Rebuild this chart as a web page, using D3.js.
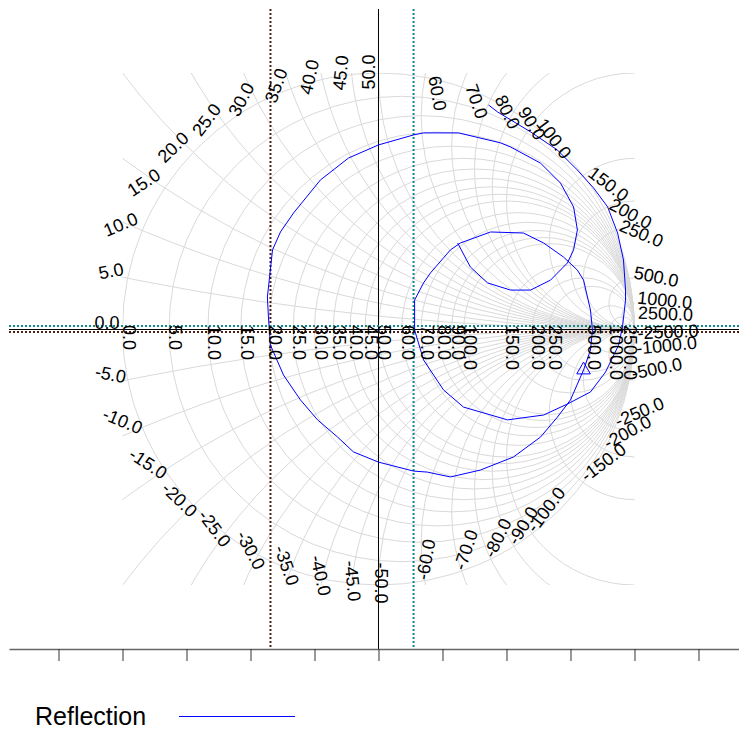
<!DOCTYPE html>
<html>
<head>
<meta charset="utf-8">
<script src="https://cdn.jsdelivr.net/npm/d3@7"></script>
<style>
body { margin: 0; background: #fff; }
text { font-family: "Liberation Sans", Arial, sans-serif; }
</style>
</head>
<body>
<script>
var width = 739, height = 729;
var z0 = 50;

// grid values in ohm
var resistances = [0, 5, 10, 15, 20, 25, 30, 35, 40, 45, 50, 60, 70, 80, 90, 100, 150, 200, 250, 500, 1000, 2500];
var reactances = [5, 10, 15, 20, 25, 30, 35, 40, 45, 50, 60, 70, 80, 90, 100, 150, 200, 250, 500, 1000, 2500];

// reflection coefficient trace (real / imaginary part)
var reflRe = [0.430, 0.465, 0.594, 0.699, 0.777, 0.840, 0.895, 0.934, 0.957, 0.965, 0.965, 0.953,
	0.938, 0.887, 0.828, 0.738, 0.645, 0.504, 0.332, 0.254, 0.176, 0.141, 0.141, 0.176, 0.203,
	0.281, 0.320, 0.438, 0.566, 0.645, 0.723, 0.777, 0.801, 0.828, 0.836, 0.828, 0.801, 0.750,
	0.699, 0.633, 0.527, 0.398, 0.281, 0.191, 0.137, 0.000, -0.098, -0.160, -0.238, -0.305,
	-0.371, -0.422, -0.430, -0.434, -0.414, -0.383, -0.332, -0.227, -0.117, 0.000, 0.137, 0.176,
	0.313, 0.477, 0.516, 0.633, 0.711, 0.762, 0.777, 0.762, 0.738, 0.672, 0.594, 0.516, 0.426,
	0.359, 0.309];
var reflIm = [0.875, 0.848, 0.770, 0.699, 0.621, 0.551, 0.477, 0.375, 0.270, 0.152, 0.113, 0.008,
	-0.063, -0.168, -0.246, -0.293, -0.336, -0.355, -0.305, -0.238, -0.121, -0.004, 0.113, 0.180,
	0.219, 0.309, 0.336, 0.379, 0.375, 0.336, 0.281, 0.230, 0.191, 0.074, -0.004, -0.082, -0.160,
	-0.277, -0.344, -0.422, -0.500, -0.551, -0.578, -0.559, -0.555, -0.520, -0.480, -0.422,
	-0.355, -0.277, -0.180, -0.063, 0.047, 0.125, 0.309, 0.379, 0.453, 0.582, 0.668, 0.719,
	0.758, 0.766, 0.766, 0.727, 0.711, 0.648, 0.570, 0.477, 0.387, 0.309, 0.258, 0.191, 0.152,
	0.152, 0.180, 0.242, 0.336];
var markerIndex = 36;

// cursor crosshairs
var cursorRe = [-0.422, 0.137];
var cursorIm = [-0.012, 0.012];
var cursorColors = ['#4f2214', '#118b8b'];

var xTicks = [-1.25, -1, -0.75, -0.5, -0.25, 0, 0.25, 0.5, 0.75, 1, 1.25];

var x = d3.scaleLinear().domain([-1.4434, 1.4102]).range([9, 739.5]);
var y = d3.scaleLinear().domain([-1.25, 1.25]).range([649, 9]);
var k = x(1) - x(0);

var svg = d3.select('body').append('svg')
	.attr('width', width)
	.attr('height', height);

svg.append('clipPath').attr('id', 'sq')
	.append('rect')
	.attr('x', x(-1)).attr('y', y(1))
	.attr('width', x(1) - x(-1)).attr('height', y(-1) - y(1));

var grid = svg.append('g').attr('clip-path', 'url(#sq)')
	.attr('fill', 'none').attr('stroke', '#d9d9d9').attr('stroke-width', 1);

// constant resistance circles
grid.selectAll('.rc').data(resistances).enter().append('circle')
	.attr('cx', function(d) { var r = d / z0; return x(r / (1 + r)); })
	.attr('cy', y(0))
	.attr('r', function(d) { var r = d / z0; return k / (1 + r); });

// constant reactance circles
var xs = [];
reactances.forEach(function(v) { xs.push(v); xs.push(-v); });
grid.selectAll('.xc').data(xs).enter().append('circle')
	.attr('cx', x(1))
	.attr('cy', function(d) { return y(z0 / d); })
	.attr('r', function(d) { return k * Math.abs(z0 / d); });

// axis lines
svg.append('line').attr('x1', 9).attr('x2', 739).attr('y1', y(0) + 0.5).attr('y2', y(0) + 0.5)
	.attr('stroke', '#000').attr('stroke-width', 1);
svg.append('line').attr('x1', x(0)).attr('x2', x(0)).attr('y1', 9).attr('y2', 649)
	.attr('stroke', '#000').attr('stroke-width', 1);

// cursors
cursorRe.forEach(function(c, i) {
	svg.append('line').attr('x1', x(c)).attr('x2', x(c)).attr('y1', 9).attr('y2', 649)
		.attr('stroke', cursorColors[i]).attr('stroke-width', 2).attr('stroke-dasharray', '2,2');
	svg.append('line').attr('x1', 9).attr('x2', 739).attr('y1', y(cursorIm[i])).attr('y2', y(cursorIm[i]))
		.attr('stroke', cursorColors[i]).attr('stroke-width', 2).attr('stroke-dasharray', '2,2');
});

// trace
var pts = reflRe.map(function(d, i) { return [d, reflIm[i]]; });
svg.append('path').datum(pts)
	.attr('fill', 'none').attr('stroke', '#0000ff').attr('stroke-width', 1)
	.attr('d', d3.line().x(function(d) { return x(d[0]); }).y(function(d) { return y(d[1]); }));

svg.append('path')
	.attr('transform', 'translate(' + x(pts[markerIndex][0]) + ',' + y(pts[markerIndex][1]) + ')')
	.attr('d', d3.symbol().type(d3.symbolTriangle).size(80))
	.attr('fill', 'none').attr('stroke', '#0000ff').attr('stroke-width', 1);

// resistance labels on the real axis
svg.selectAll('.rl').data(resistances).enter().append('text')
	.attr('font-size', 18)
	.attr('transform', function(d) {
		var r = d / z0, g = (r - 1) / (r + 1);
		return 'translate(' + x(g) + ',' + (y(0) - 4) + ') rotate(90)';
	})
	.text(function(d) { return d.toFixed(1); });

// reactance labels around the rim
var xl = [0].concat(xs);
svg.selectAll('.xl').data(xl).enter().append('text')
	.attr('font-size', 18)
	.each(function(d) {
		var xn = d / z0;
		var gr = (xn * xn - 1) / (xn * xn + 1), gi = 2 * xn / (xn * xn + 1);
		var th = Math.atan2(gi, gr) * 180 / Math.PI;
		var left = gr <= 1e-9;
		var t = d3.select(this);
		if (left) {
			var rot = th > 0 ? th - 180 : th + 180;
			var dy = -18.5 * Math.sin(th * Math.PI / 180);
			t.attr('text-anchor', 'end')
				.attr('transform', 'translate(' + (x(gr) - 3) + ',' + (y(gi) + dy) + ') rotate(' + rot + ')');
		} else {
			t.attr('text-anchor', 'start')
				.attr('transform', 'translate(' + (x(gr) + 3.5) + ',' + y(gi) + ') rotate(' + th + ')');
		}
	})
	.text(function(d) { return d.toFixed(1); });

// bottom axis
var ax = svg.append('g').attr('transform', 'translate(0,649)')
	.call(d3.axisBottom(x).tickValues(xTicks).tickFormat('').tickSize(12).tickSizeOuter(0));
ax.select('.domain').attr('stroke', '#666').attr('stroke-width', 1.5);
ax.selectAll('.tick line').attr('stroke', '#333');

// legend
svg.append('text').attr('x', 35).attr('y', 725).attr('font-size', 25).text('Reflection');
svg.append('line').attr('x1', 179).attr('x2', 295).attr('y1', 716.5).attr('y2', 716.5)
	.attr('stroke', '#0000ff').attr('stroke-width', 1);
</script>
</body>
</html>
